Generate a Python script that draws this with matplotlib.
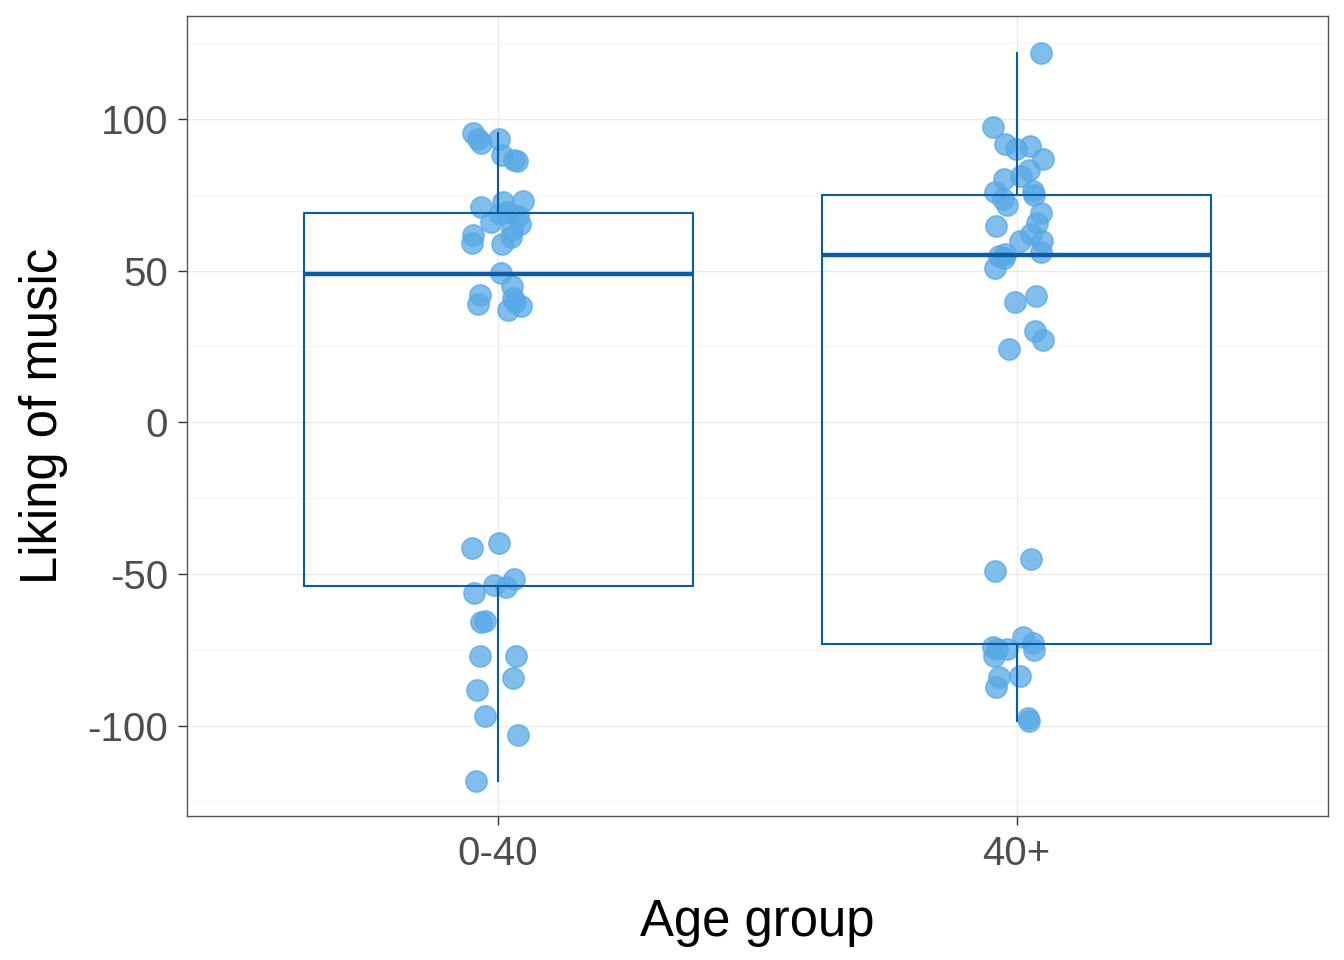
import matplotlib.pyplot as plt
from matplotlib.ticker import MultipleLocator

plt.rcParams['font.family'] = ['Liberation Sans', 'DejaVu Sans']
plt.rcParams['axes.unicode_minus'] = False

age_groups = ['0-40', '40+']

# jittered points: horizontal jitter (in group units) and liking
young_jitter = [-0.048, -0.038, -0.033, 0.002, 0.008, 0.031, 0.036, 0.048, 0.010, -0.033,
                -0.014, 0.017, 0.039, 0.042, 0.027, 0.025, -0.048, -0.050, 0.008, 0.006,
                0.027, -0.035, 0.029, 0.033, 0.044, -0.039, 0.019, 0.004,
                -0.050, 0.001, 0.030, -0.007, 0.015, -0.046, -0.026, -0.033, -0.034, 0.035,
                0.028, -0.040, -0.026, 0.039, -0.042]
young_liking = [95.5, 93.2, 92.0, 93.5, 88.0, 86.5, 86.2, 73.0, 72.6, 71.0,
                66.1, 69.2, 68.0, 65.4, 63.2, 61.0, 61.8, 59.2, 58.7, 49.3,
                45.0, 42.0, 40.8, 39.6, 38.2, 38.9, 37.1, 68.5,
                -41.5, -39.8, -51.7, -53.8, -54.2, -56.4, -65.5, -65.9, -77.1, -77.0,
                -84.3, -88.4, -96.9, -103.0, -118.4]

old_jitter = [0.046, -0.045, -0.023, -0.002, 0.026, 0.050, 0.024, 0.008, -0.025, -0.041,
              0.032, 0.033, -0.026, -0.018, 0.046, 0.040, -0.039, 0.028, 0.006, 0.048,
              0.046, -0.023, -0.034, -0.025, -0.042, -0.003, 0.037, 0.035, 0.050, -0.015,
              0.028, -0.041, 0.013, 0.032, 0.033, -0.045, -0.037, -0.018, -0.044, -0.034,
              0.006, -0.039, 0.021, 0.024]
old_liking = [121.8, 97.3, 91.8, 90.0, 91.0, 86.9, 83.3, 81.2, 80.3, 75.9,
              76.2, 74.8, 73.7, 71.5, 69.0, 65.7, 64.6, 62.0, 59.7, 59.7,
              56.1, 55.4, 54.7, 54.1, 51.0, 39.6, 41.6, 30.1, 27.0, 24.1,
              -45.2, -49.1, -70.7, -72.9, -75.1, -74.0, -74.6, -74.9, -77.0, -84.1,
              -83.7, -87.2, -97.4, -98.5]

# box summaries
q1 = [-54.0, -73.0]
med = [49.0, 55.0]
q3 = [68.9, 74.8]
whis_lo = [-118.4, -98.5]
whis_hi = [95.5, 121.8]

point_col = '#57A9E6'
box_col = '#0B5CA5'

fig = plt.figure(figsize=(6.72, 4.8), dpi=200)
ax = fig.add_axes([0.139, 0.15, 0.849, 0.833])

ax.scatter([1 + j for j in young_jitter], young_liking, s=58, color=point_col,
           alpha=0.75, linewidths=0.6, zorder=2)
ax.scatter([2 + j for j in old_jitter], old_liking, s=58, color=point_col,
           alpha=0.75, linewidths=0.6, zorder=2)

stats = []
for i in range(2):
    stats.append({'med': med[i], 'q1': q1[i], 'q3': q3[i],
                  'whislo': whis_lo[i], 'whishi': whis_hi[i], 'fliers': []})
ax.bxp(stats, positions=[1, 2], widths=0.75, showcaps=False, patch_artist=False,
       boxprops=dict(color=box_col, linewidth=0.75),
       whiskerprops=dict(color=box_col, linewidth=0.75),
       medianprops=dict(color=box_col, linewidth=1.6, solid_capstyle='butt'),
       zorder=3)

ax.set_xlim(0.4, 2.6)
ax.set_ylim(-129.8, 133.8)
ax.set_xticks([1, 2])
ax.set_xticklabels(age_groups)
ax.yaxis.set_major_locator(MultipleLocator(50))
ax.yaxis.set_minor_locator(MultipleLocator(25))

ax.grid(True, which='major', color='#EBEBEB', linewidth=0.5, zorder=0)
ax.grid(True, which='minor', axis='y', color='#F5F5F5', linewidth=0.4, zorder=0)
ax.set_axisbelow(True)

for sp in ax.spines.values():
    sp.set_color('#555555')
    sp.set_linewidth(0.5)

ax.tick_params(axis='both', which='major', length=3.2, width=0.5, color='#333333',
               labelsize=14.5, labelcolor='#4D4D4D', pad=3.5)
ax.tick_params(axis='y', which='minor', length=0)

ax.set_xlabel('Age group', fontsize=18.3, labelpad=9)
ax.set_ylabel('Liking of music', fontsize=18.3, labelpad=7)

fig.savefig('out.png', dpi=200)
